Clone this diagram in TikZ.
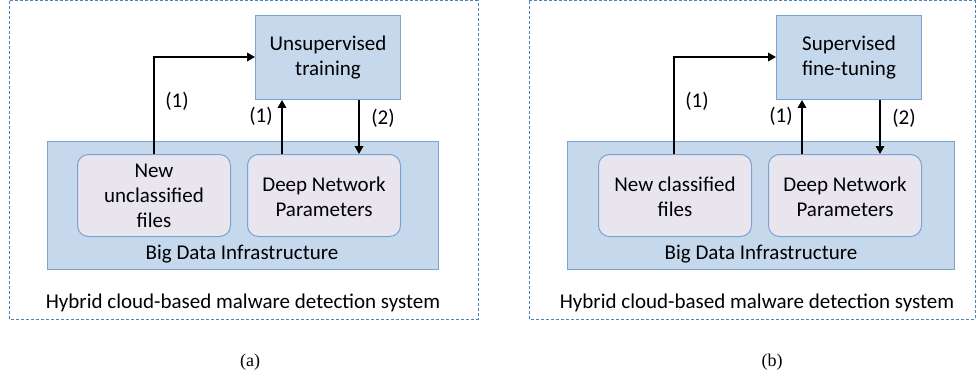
\documentclass[tikz,border=0pt]{standalone}
\usepackage{fontspec}
\setmainfont{Carlito}
\newfontfamily\capfont{Liberation Serif}
\usetikzlibrary{arrows.meta}
\definecolor{boxfill}{HTML}{C5D8EC}
\definecolor{boxline}{HTML}{7AA3D4}
\definecolor{itemfill}{HTML}{E9E5EF}
\definecolor{frameline}{HTML}{4A7FC0}
\tikzset{
  stagebox/.style={draw=boxline, fill=boxfill, line width=1pt},
  itembox/.style={draw=boxline, fill=itemfill, line width=1pt, rounded corners=11pt},
  outerframe/.style={draw=frameline, dash pattern=on 3pt off 2pt, line width=1pt},
  flow/.style={line width=1.8pt, -{Triangle[length=8pt,width=8.5pt]}},
  txt/.style={font=\fontsize{21}{25}\selectfont, align=center, inner sep=0pt},
  lbl/.style={font=\fontsize{21}{25}\selectfont, inner sep=0pt},
  captext/.style={font=\capfont\fontsize{18}{20}\selectfont, inner sep=0pt}
}
\begin{document}
\begin{tikzpicture}[x=1pt, y=-1pt]
\useasboundingbox (0,0) rectangle (976,377);

% ---------- panel (a) ----------
\draw[outerframe] (9,1) rectangle (478,319);
\draw[stagebox] (47,141) rectangle (438,269);
\node[stagebox, minimum width=145pt, minimum height=84pt, anchor=north west] (trainA) at (255,15) {};
\node[txt] at (trainA.center) {Unsupervised\\training};
\node[itembox, minimum width=153pt, minimum height=82pt, anchor=north west] (filesA) at (77,154) {};
\node[txt] at (filesA.center) {New\\unclassified\\files};
\node[itembox, minimum width=153pt, minimum height=82pt, anchor=north west] (paramsA) at (247,154) {};
\node[txt] at ([yshift=-1pt]paramsA.center) {Deep Network\\Parameters};
\node[txt] (infraA) at (242,254) {Big Data Infrastructure};
\node[txt] (hybridA) at (243,303) {Hybrid cloud-based malware detection system};

\coordinate (cornerA) at (154,57);
\draw[flow] (filesA.north -| cornerA) -- (cornerA) -- (cornerA -| trainA.west);
\draw[flow] (paramsA.north -| 282,0) -- (trainA.south -| 282,0);
\draw[flow] (trainA.south -| 359,0) -- (paramsA.north -| 359,0);
\node[lbl] (la1) at (177,101) {(1)};
\node[lbl] (la2) at (261,116) {(1)};
\node[lbl] (la3) at (383,118) {(2)};
\node[captext] (capA) at (250,362) {(a)};

% ---------- panel (b) ----------
\draw[outerframe] (529,1) rectangle (975,319);
\draw[stagebox] (567,141) rectangle (954,269);
\node[stagebox, minimum width=145pt, minimum height=84pt, anchor=north west] (trainB) at (776,15) {};
\node[txt] at (trainB.center) {Supervised\\fine-tuning};
\node[itembox, minimum width=153pt, minimum height=82pt, anchor=north west] (filesB) at (598,154) {};
\node[txt] at ([yshift=-1pt]filesB.center) {New classified\\files};
\node[itembox, minimum width=153pt, minimum height=82pt, anchor=north west] (paramsB) at (768,154) {};
\node[txt] at ([yshift=-1pt]paramsB.center) {Deep Network\\Parameters};
\node[txt] (infraB) at (761,254) {Big Data Infrastructure};
\node[txt] (hybridB) at (757,303) {Hybrid cloud-based malware detection system};

\coordinate (cornerB) at (674,57);
\draw[flow] (filesB.north -| cornerB) -- (cornerB) -- (cornerB -| trainB.west);
\draw[flow] (paramsB.north -| 802,0) -- (trainB.south -| 802,0);
\draw[flow] (trainB.south -| 880,0) -- (paramsB.north -| 880,0);
\node[lbl] (lb1) at (697,101) {(1)};
\node[lbl] (lb2) at (781,116) {(1)};
\node[lbl] (lb3) at (904,118) {(2)};
\node[captext] (capB) at (772,362) {(b)};
\end{tikzpicture}
\end{document}
